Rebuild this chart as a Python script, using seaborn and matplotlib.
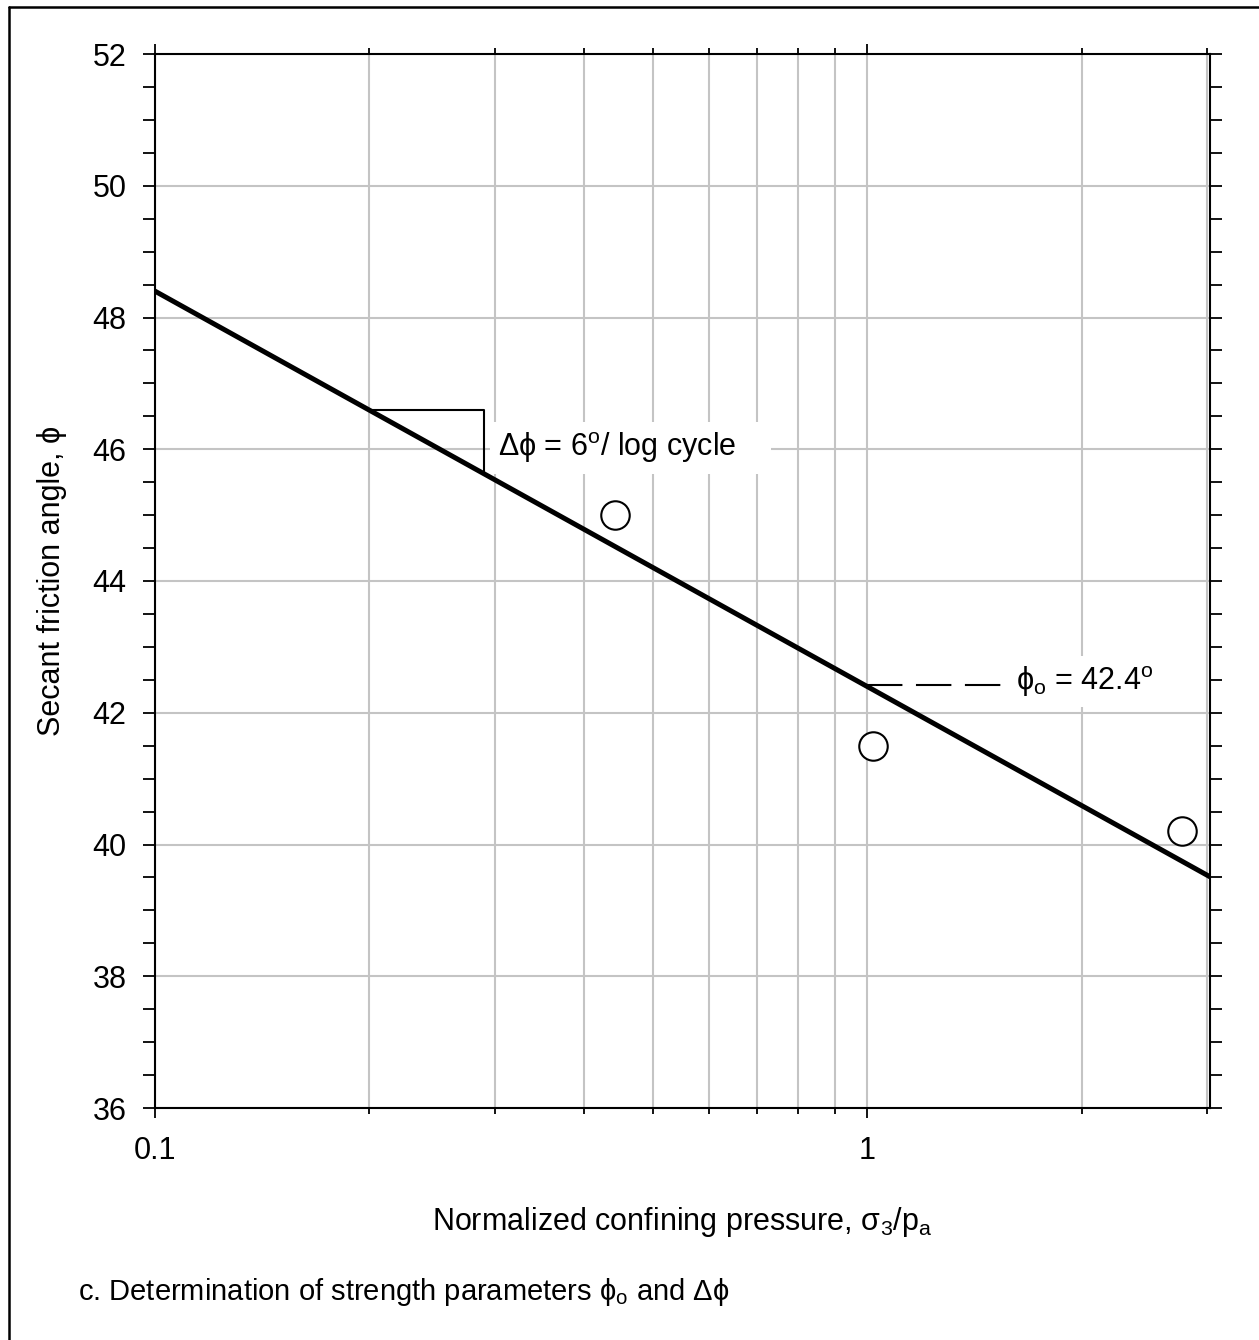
import matplotlib
matplotlib.use("Agg")
import matplotlib.pyplot as plt
import seaborn as sns
from matplotlib.ticker import LogLocator, MultipleLocator, NullFormatter
from matplotlib.lines import Line2D

# ---- data ----
pressure = [0.443, 1.02, 2.77]          # sigma3 / pa
friction = [45.0, 41.5, 40.2]           # secant friction angle (deg)

fit_x = [0.1, 3.03]                     # fitted line: phi = 42.4 - 6 log10(x)
fit_y = [48.4, 39.51]

tri_x = [0.2, 0.29, 0.29]               # slope triangle
tri_y = [46.59, 46.59, 45.63]

phi0_x = [1.0, 1.54]                    # dashed leader for phi_o
phi0_y = [42.42, 42.42]

x_ticks = [0.1, 1]
x_ticklabels = ["0.1", "1"]
y_ticks = [36, 38, 40, 42, 44, 46, 48, 50, 52]
y_ticklabels = [str(v) for v in y_ticks]

# ---- style ----
sns.set_theme(style="white")
plt.rcParams["font.family"] = ["Liberation Sans", "DejaVu Sans"]
plt.rcParams["mathtext.fontset"] = "custom"
plt.rcParams["mathtext.rm"] = "Liberation Sans"
plt.rcParams["mathtext.it"] = "Liberation Sans"
plt.rcParams["mathtext.bf"] = "Liberation Sans:bold"

FS = 22
W, H = 1259, 1340
fig = plt.figure(figsize=(W / 100, H / 100), dpi=100)
ax = fig.add_axes([155 / W, 1 - 1108 / H, (1210 - 155) / W, (1108 - 54) / H])

ax.set_xscale("log")
ax.set_xlim(0.1, 3.03)
ax.set_ylim(36, 52)

# grid
ax.set_axisbelow(True)
ax.xaxis.set_minor_locator(LogLocator(base=10, subs=range(2, 10)))
ax.xaxis.set_minor_formatter(NullFormatter())
ax.set_xticks(x_ticks, x_ticklabels)
ax.set_yticks(y_ticks, y_ticklabels)
ax.yaxis.set_minor_locator(MultipleLocator(0.5))
gc = "#c4c4c4"
ax.grid(which="both", axis="x", color=gc, lw=1.5)
ax.grid(which="major", axis="y", color=gc, lw=1.5)

for s in ax.spines.values():
    s.set_color("black")
    s.set_linewidth(1.5)

ax.tick_params(axis="y", which="both", direction="out", left=True, right=True,
               length=8.6, width=1.3, color="black", labelsize=FS, pad=12,
               labelcolor="black")
ax.tick_params(axis="x", which="major", direction="out", bottom=True, top=True,
               length=7.5, width=1.3, color="black", labelsize=FS, pad=13,
               labelcolor="black")
ax.tick_params(axis="x", which="minor", direction="out", bottom=True, top=True,
               length=4.5, width=1.3, color="black")

# ---- marks ----
sns.lineplot(x=fit_x, y=fit_y, color="black", lw=3.6, ax=ax, zorder=4)
sns.scatterplot(x=pressure, y=friction, s=420, facecolor="white",
                edgecolor="black", linewidth=1.5, ax=ax, zorder=5)
ax.plot(tri_x, tri_y, color="black", lw=1.5, zorder=4)
ax.plot(phi0_x, phi0_y, color="black", lw=1.5, linestyle=(0, (17, 6.5)), zorder=4)

# ---- annotations ----
ax.text(0.303, 46.02, "Δϕ = 6$^{\\mathrm{o}}$/ log cycle    ", fontsize=FS,
        va="center", ha="left", color="black", zorder=3,
        bbox=dict(facecolor="white", edgecolor="none", pad=6))
ax.text(1.62, 42.47, "ϕ$_{\\mathrm{o}}$ = 42.4$^{\\mathrm{o}}$ ", fontsize=FS,
        va="center", ha="left", color="black", zorder=3,
        bbox=dict(facecolor="white", edgecolor="none", pad=6))

ax.set_xlabel("Normalized confining pressure, σ$_{3}$/p$_{\\mathrm{a}}$",
              fontsize=FS, color="black", labelpad=28)
ax.set_ylabel("Secant friction angle, ϕ", fontsize=FS, color="black",
              labelpad=18)

fig.text(78 / W, 1 - 1292 / H,
         "c. Determination of strength parameters ϕ$_{\\mathrm{o}}$ and Δϕ",
         fontsize=21, va="center", ha="left", color="black")

# figure frame (left and top edges visible in the reference)
fig.add_artist(Line2D([9 / W, 9 / W], [0, 1 - 7 / H], transform=fig.transFigure,
                      color="black", lw=1.8))
fig.add_artist(Line2D([9 / W, 1], [1 - 7 / H, 1 - 7 / H], transform=fig.transFigure,
                      color="black", lw=1.8))

fig.savefig("out.png", dpi=100, facecolor="white")
